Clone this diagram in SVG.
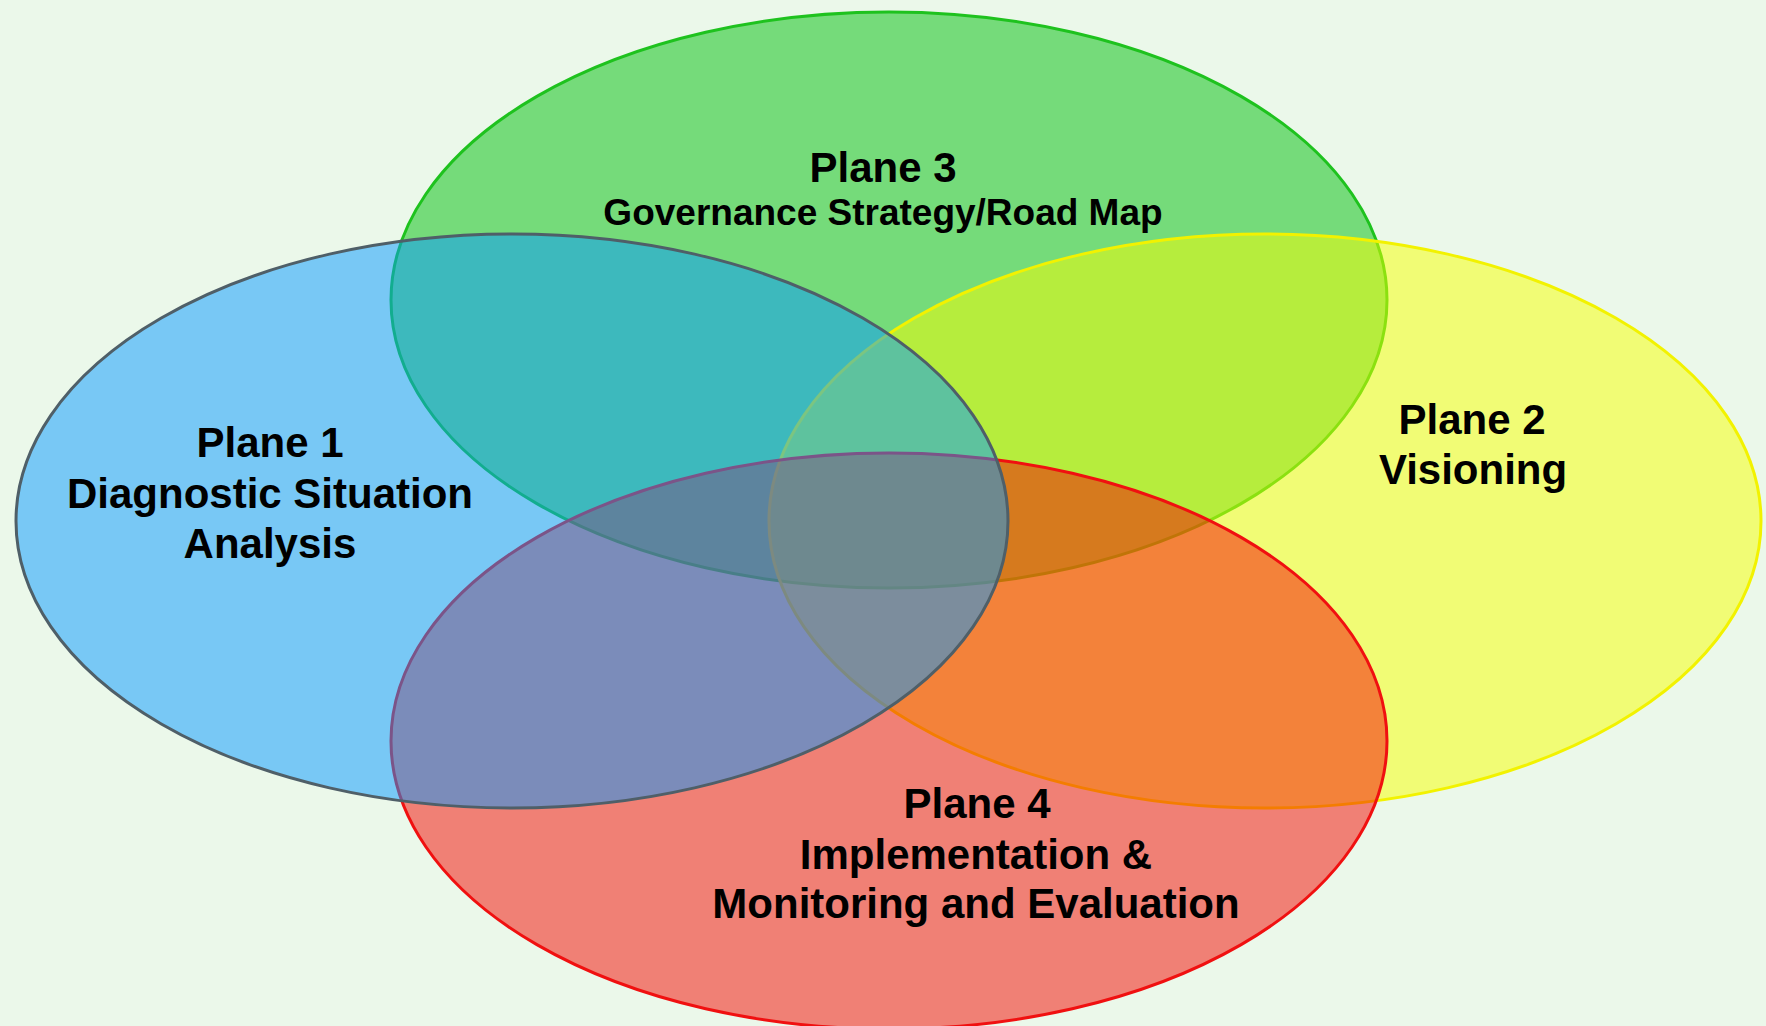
<svg xmlns="http://www.w3.org/2000/svg" width="1766" height="1026" viewBox="0 0 1766 1026">
<style>
.e{stroke-width:3;fill-opacity:0.5}
.t{font-family:"Liberation Sans",Arial,sans-serif;font-weight:bold;fill:#000;text-anchor:middle}
.big{font-size:42px}
.sub{font-size:37px}
</style>
<rect x="0" y="0" width="1766" height="1026" fill="#EBF8EA"/>
<g id="plane3">
<ellipse class="e" cx="889" cy="300" rx="498" ry="288" fill="#00BE0A" stroke="#1EC21E"/>
<text class="t big" x="883" y="182">Plane 3</text>
<text class="t sub" x="883" y="225">Governance Strategy/Road Map</text>
</g>
<g id="plane2">
<ellipse class="e" cx="1265" cy="521" rx="496" ry="287" fill="#F8FF00" stroke="#F2F200"/>
<text class="t big" x="1472" y="434">Plane 2</text>
<text class="t big" x="1473" y="484">Visioning</text>
</g>
<g id="plane4">
<ellipse class="e" cx="889" cy="741" rx="498" ry="288" fill="#F60800" stroke="#F01010"/>
<text class="t big" x="977" y="818">Plane 4</text>
<text class="t big" x="976" y="869">Implementation &amp;</text>
<text class="t big" x="976" y="918">Monitoring and Evaluation</text>
</g>
<g id="plane1">
<ellipse class="e" cx="512" cy="521" rx="496" ry="287" fill="#0598FF" stroke="#4F5F68"/>
<text class="t big" x="270" y="457">Plane 1</text>
<text class="t big" x="270" y="508">Diagnostic Situation</text>
<text class="t big" x="270" y="558">Analysis</text>
</g>
</svg>
